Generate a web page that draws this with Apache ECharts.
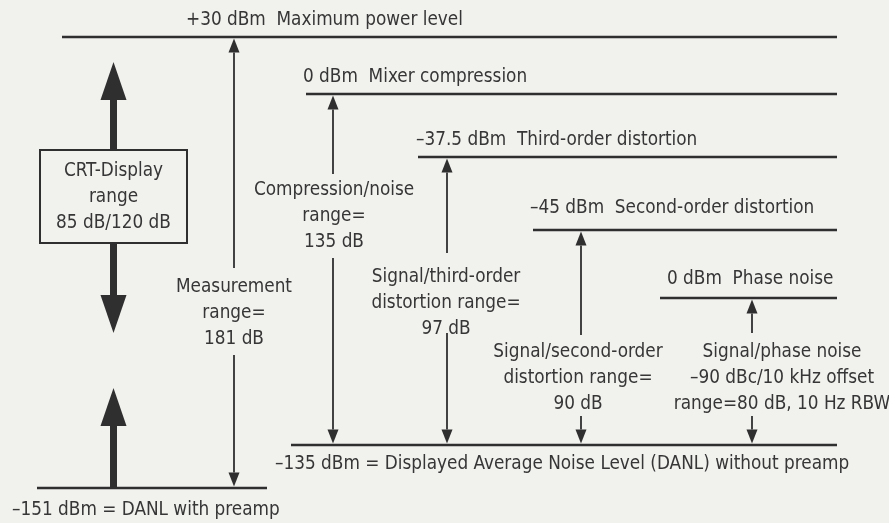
<!DOCTYPE html>
<html>
<head>
<meta charset="utf-8">
<script src="https://cdn.jsdelivr.net/npm/echarts@6/dist/echarts.min.js"></script>
<style>
  html, body { margin: 0; padding: 0; background: #f1f1ee; }
  #chart { width: 889px; height: 523px; }
</style>
</head>
<body>
<div id="chart"></div>
<script>
// 电平线（dBm）
const levelNames = [
  '+30 dBm  Maximum power level',
  '0 dBm  Mixer compression',
  '\u201337.5 dBm  Third-order distortion',
  '\u201345 dBm  Second-order distortion',
  '0 dBm  Phase noise',
  '\u2013135 dBm = Displayed Average Noise Level (DANL) without preamp',
  '\u2013151 dBm = DANL with preamp'
];
const levelY = [37, 94, 157, 230, 298, 445, 488];
const levelFrom = [62, 306, 418, 533, 660, 291, 37];
const levelTo = [837, 837, 837, 837, 837, 837, 267];
const levelLabelX = [186, 303, 416, 530, 667, 275, 12];
const levelLabelY = [20, 77, 140, 208, 279, 464, 510];

// 量程箭头
const rangeNames = [
  'Measurement\nrange=\n181 dB',
  'Compression/noise\nrange=\n135 dB',
  'Signal/third-order\ndistortion range=\n97 dB',
  'Signal/second-order\ndistortion range=\n90 dB',
  'Signal/phase noise\n\u201390 dBc/10 kHz offset\nrange=80 dB, 10 Hz RBW'
];
const rangeX = [234, 333, 447, 581, 752];
const rangeTop = [0, 1, 2, 3, 4];      // 上端电平序号
const rangeBottom = [6, 5, 5, 5, 5];   // 下端电平序号
const rangeGapFrom = [268, 174, 253, 335, 333];
const rangeGapTo = [355, 258, 333, 416, 416];
const rangeTextX = [234, 334, 446, 578, 782];
const rangeTextY = [287, 190, 277, 352, 352];

// CRT 显示框
const crtLines = ['CRT-Display', 'range', '85 dB/120 dB'];
const crtBox = [40, 150, 187, 243];
const crtArrowUpTip = 62;
const crtArrowDownTip = 333;
const crtArrowBottomTip = 388;

const ink = '#2f2f2f';
const textInk = '#363636';
const font = '18.8px "Liberation Sans Narrow", "DejaVu Sans Condensed", sans-serif';
const lineH = 26;

function headUp(x, y, w, h) {
  return { type: 'polygon', shape: { points: [[x, y], [x - w / 2, y + h], [x + w / 2, y + h]] }, style: { fill: ink } };
}
function headDown(x, y, w, h) {
  return { type: 'polygon', shape: { points: [[x, y], [x - w / 2, y - h], [x + w / 2, y - h]] }, style: { fill: ink } };
}
function seg(x1, y1, x2, y2, w) {
  return { type: 'line', shape: { x1, y1, x2, y2 }, style: { stroke: ink, lineWidth: w } };
}
// 多行文字：y 为第一行中心
function txt(s, x, y, align) {
  return s.split('\n').map((line, k) => ({
    type: 'text',
    style: { text: line, x, y: y + k * lineH, fill: textInk, font, align: align || 'left', verticalAlign: 'middle' }
  }));
}

const levelData = levelNames.map((n, i) => [levelFrom[i], levelY[i], levelTo[i], levelLabelX[i], levelLabelY[i], i]);
const rangeData = rangeNames.map((n, i) => [rangeX[i], levelY[rangeTop[i]], levelY[rangeBottom[i]], rangeGapFrom[i], rangeGapTo[i], rangeTextX[i], rangeTextY[i], i]);

const chart = echarts.init(document.getElementById('chart'));
chart.setOption({
  backgroundColor: '#f1f1ee',
  animation: false,
  grid: { left: 0, right: 0, top: 0, bottom: 0 },
  xAxis: { type: 'value', min: 0, max: 889, show: false },
  yAxis: { type: 'value', min: 0, max: 523, inverse: true, show: false },
  series: [
    {
      type: 'custom',
      data: levelData,
      renderItem: function (params, api) {
        const p0 = api.coord([api.value(0), api.value(1)]);
        const p1 = api.coord([api.value(2), api.value(1)]);
        const pt = api.coord([api.value(3), api.value(4)]);
        return {
          type: 'group',
          children: [seg(p0[0], p0[1], p1[0], p1[1], 2.4)].concat(txt(levelNames[api.value(5)], pt[0], pt[1]))
        };
      }
    },
    {
      type: 'custom',
      data: rangeData,
      renderItem: function (params, api) {
        const x = api.coord([api.value(0), 0])[0];
        const top = api.coord([0, api.value(1)])[1] + 1.5;
        const bot = api.coord([0, api.value(2)])[1] - 1.5;
        const g0 = api.coord([0, api.value(3)])[1];
        const g1 = api.coord([0, api.value(4)])[1];
        const t = api.coord([api.value(5), api.value(6)]);
        const hw = 11, hh = 14;
        return {
          type: 'group',
          children: [
            seg(x, top + hh, x, g0, 1.8),
            headUp(x, top, hw, hh),
            seg(x, g1, x, bot - hh, 1.8),
            headDown(x, bot, hw, hh)
          ].concat(txt(rangeNames[api.value(7)], t[0], t[1], 'center'))
        };
      }
    },
    {
      type: 'custom',
      data: [[crtBox[0], crtBox[1], crtBox[2], crtBox[3], crtArrowUpTip, crtArrowDownTip, crtArrowBottomTip, levelY[6]]],
      renderItem: function (params, api) {
        const a = api.coord([api.value(0), api.value(1)]);
        const b = api.coord([api.value(2), api.value(3)]);
        const cx = (a[0] + b[0]) / 2;
        const upTip = api.coord([0, api.value(4)])[1];
        const downTip = api.coord([0, api.value(5)])[1];
        const botTip = api.coord([0, api.value(6)])[1];
        const base = api.coord([0, api.value(7)])[1];
        const hw = 26, hh = 38, sw = 7;
        return {
          type: 'group',
          children: [
            { type: 'rect', shape: { x: a[0], y: a[1], width: b[0] - a[0], height: b[1] - a[1] }, style: { fill: 'none', stroke: ink, lineWidth: 2 } },
            seg(cx, a[1], cx, upTip + hh, sw),
            headUp(cx, upTip, hw, hh),
            seg(cx, b[1], cx, downTip - hh, sw),
            headDown(cx, downTip, hw, hh),
            seg(cx, base, cx, botTip + hh, sw),
            headUp(cx, botTip, hw, hh)
          ].concat(txt(crtLines.join('\n'), cx, a[1] + 21, 'center'))
        };
      }
    }
  ]
});
</script>
</body>
</html>
